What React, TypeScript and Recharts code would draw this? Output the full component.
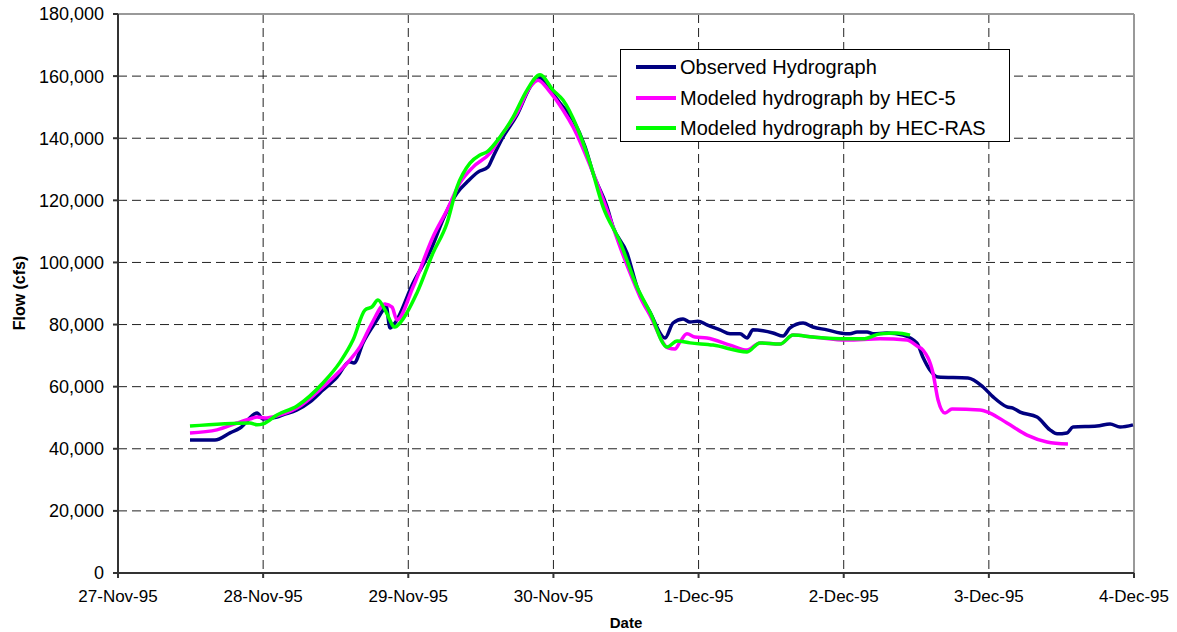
import React from "react";
import {
  LineChart, Line, XAxis, YAxis, CartesianGrid, ReferenceLine,
} from "recharts";

// x = days since 27-Nov-95 00:00, y = flow (cfs)
const DATE_LABELS = [
  "27-Nov-95", "28-Nov-95", "29-Nov-95", "30-Nov-95",
  "1-Dec-95", "2-Dec-95", "3-Dec-95", "4-Dec-95",
];
const DAY_TICKS = [0, 1, 2, 3, 4, 5, 6, 7];
const FLOW_TICKS = [0, 20000, 40000, 60000, 80000, 100000, 120000, 140000, 160000, 180000];

const SERIES_NAMES = [
  "Observed Hydrograph",
  "Modeled hydrograph by HEC-5",
  "Modeled hydrograph by HEC-RAS",
];
const SERIES_COLORS = ["#000080", "#FF00FF", "#00FF00"];

const OBS_DAYS = [
  0.496, 0.668, 0.772, 0.841, 0.958, 0.999, 1.095, 1.137, 1.233, 1.323,
  1.412, 1.509, 1.595, 1.626, 1.688, 1.784, 1.826, 1.847, 1.874, 1.908,
  2.033, 2.15, 2.253, 2.336, 2.405, 2.48, 2.549, 2.584, 2.653, 2.749,
  2.839, 2.894, 2.976, 3.045, 3.135, 3.218, 3.273, 3.369, 3.411, 3.507,
  3.576, 3.665, 3.769, 3.824, 3.893, 3.941, 3.996, 4.058, 4.148, 4.217,
  4.286, 4.334, 4.375, 4.444, 4.513, 4.582, 4.63, 4.72, 4.788, 4.885,
  4.975, 5.043, 5.092, 5.161, 5.202, 5.298, 5.409, 5.505, 5.546, 5.594,
  5.65, 5.856, 5.96, 6.029, 6.125, 6.166, 6.215, 6.332, 6.421, 6.47,
  6.538, 6.58, 6.745, 6.835, 6.904, 6.993,
];
const OBS_FLOW = [
  42800, 42800, 45100, 46700, 51500, 49600, 50200, 50900, 52500, 55100,
  58900, 63100, 68000, 67600, 74100, 81500, 84700, 86000, 78900, 80500,
  93400, 103500, 115300, 122400, 125900, 129100, 130700, 134000, 140400, 147500,
  156500, 159700, 155500, 151300, 145900, 137200, 128800, 117900, 111400, 103000,
  92100, 84000, 75700, 80500, 81800, 80800, 81100, 79900, 78300, 77000,
  77000, 75700, 78300, 78000, 77300, 76300, 78900, 80500, 79200, 78300,
  77300, 77000, 77600, 77600, 77000, 77300, 76600, 74000, 69500, 65400,
  63100, 62800, 59900, 56700, 53500, 53100, 51800, 50200, 46100, 44800,
  45100, 47000, 47300, 48000, 47000, 47700,
];

const HEC5_DAYS = [
  0.496, 0.682, 0.82, 0.909, 0.958, 1.013, 1.095, 1.233, 1.412, 1.598,
  1.667, 1.75, 1.84, 1.888, 1.922, 2.033, 2.17, 2.267, 2.356, 2.446,
  2.563, 2.653, 2.749, 2.839, 2.894, 2.976, 3.066, 3.135, 3.273, 3.369,
  3.459, 3.548, 3.597, 3.665, 3.789, 3.838, 3.872, 3.92, 3.975, 4.058,
  4.217, 4.334, 4.423, 4.561, 4.651, 4.788, 5.023, 5.25, 5.436, 5.505,
  5.546, 5.615, 5.65, 5.698, 5.746, 5.939, 6.008, 6.125, 6.263, 6.401,
  6.545,
];
const HEC5_FLOW = [
  45100, 46100, 48300, 49600, 50200, 49900, 50600, 53100, 59900, 68600,
  72800, 80500, 86600, 85600, 81500, 92100, 108200, 116900, 125600, 130700,
  135200, 141700, 148100, 156500, 158700, 154900, 149100, 143600, 128800, 116900,
  105000, 94300, 88900, 83000, 72500, 72100, 74400, 77000, 76000, 75700,
  73400, 71800, 74100, 73700, 76600, 76000, 75000, 75400, 75000, 73100,
  71800, 64400, 55700, 51500, 52800, 52500, 51500, 48300, 44400, 42200,
  41500,
];

const RAS_DAYS = [
  0.496, 0.909, 0.958, 0.999, 1.095, 1.233, 1.412, 1.53, 1.619, 1.702,
  1.75, 1.791, 1.84, 1.908, 1.943, 2.06, 2.17, 2.267, 2.336, 2.425,
  2.494, 2.542, 2.632, 2.722, 2.818, 2.908, 2.997, 3.066, 3.162, 3.252,
  3.342, 3.459, 3.576, 3.665, 3.783, 3.852, 3.941, 4.1, 4.334, 4.423,
  4.561, 4.651, 4.788, 5.023, 5.133, 5.25, 5.367, 5.457,
];
const RAS_FLOW = [
  47300, 48300, 47700, 48000, 50900, 53800, 61200, 67900, 75000, 84700,
  85700, 87900, 84700, 79200, 80500, 90200, 103000, 112700, 124300, 132000,
  134600, 135600, 140400, 146800, 155500, 160400, 155500, 152300, 143600, 132000,
  117900, 106600, 92100, 84000, 72800, 74700, 74100, 73400, 71200, 74100,
  73700, 76600, 76000, 75400, 75400, 77000, 77300, 76600,
];

const FONT = '"Liberation Sans", Arial, sans-serif';

const toPoints = (days: number[], flows: number[]) =>
  days.map((d, i) => ({ day: d, flow: flows[i] }));

const seriesData = [
  toPoints(OBS_DAYS, OBS_FLOW),
  toPoints(HEC5_DAYS, HEC5_FLOW),
  toPoints(RAS_DAYS, RAS_FLOW),
];

// legend box drawn over the plot, right of the peak
function LegendBox() {
  return (
    <div
      style={{
        position: "absolute",
        left: 620,
        top: 49,
        width: 390,
        height: 93,
        border: "1px solid #000",
        background: "#fff",
        boxSizing: "border-box",
        paddingTop: 2,
        fontFamily: FONT,
      }}
    >
      {SERIES_NAMES.map((name, i) => (
        <div key={name} style={{ display: "flex", alignItems: "center", height: 30.5 }}>
          <span
            style={{
              display: "inline-block",
              width: 40,
              height: 4,
              background: SERIES_COLORS[i],
              marginLeft: 15,
              marginRight: 4,
            }}
          />
          <span style={{ fontSize: 20, lineHeight: "22px", color: "#000", whiteSpace: "nowrap" }}>{name}</span>
        </div>
      ))}
    </div>
  );
}

export default function App() {
  const tickStyle = { fill: "#000", fontSize: 17, fontFamily: FONT };
  return (
    <div style={{ position: "absolute", left: 0, top: 0, width: 1177, height: 632, background: "#fff" }}>
      <LineChart width={1177} height={632} margin={{ top: 14, right: 43, bottom: 0, left: 0 }}>
        <CartesianGrid stroke="#222" strokeDasharray="9 5" />
        <XAxis
          type="number"
          dataKey="day"
          domain={[0, 7]}
          ticks={DAY_TICKS}
          tickFormatter={(v: number) => DATE_LABELS[v]}
          height={59}
          tickSize={5}
          tickMargin={12}
          stroke="#333"
          strokeWidth={2}
          tick={tickStyle}
          interval={0}
          label={{ value: "Date", position: "insideBottom", offset: 4, fill: "#000", fontSize: 15, fontWeight: "bold", fontFamily: FONT }}
        />
        <YAxis
          type="number"
          domain={[0, 180000]}
          ticks={FLOW_TICKS}
          tickFormatter={(v: number) => v.toLocaleString("en-US")}
          width={118}
          tickSize={5}
          tickMargin={9}
          stroke="#333"
          strokeWidth={2}
          tick={{ ...tickStyle, fontSize: 18 }}
          interval={0}
        />
        <ReferenceLine y={180000} stroke="#999" strokeWidth={2} />
        <ReferenceLine x={7} stroke="#999" strokeWidth={2} />
        {seriesData.map((pts, i) => (
          <Line
            key={SERIES_NAMES[i]}
            data={pts}
            dataKey="flow"
            name={SERIES_NAMES[i]}
            type="monotone"
            stroke={SERIES_COLORS[i]}
            strokeWidth={3.5}
            dot={false}
            isAnimationActive={false}
          />
        ))}
      </LineChart>
      <div
        style={{
          position: "absolute",
          left: 20,
          top: 293,
          transform: "translate(-50%, -50%) rotate(-90deg)",
          fontFamily: FONT,
          fontWeight: "bold",
          fontSize: 16,
          whiteSpace: "nowrap",
          color: "#000",
        }}
      >
        Flow (cfs)
      </div>
      <LegendBox />
    </div>
  );
}
